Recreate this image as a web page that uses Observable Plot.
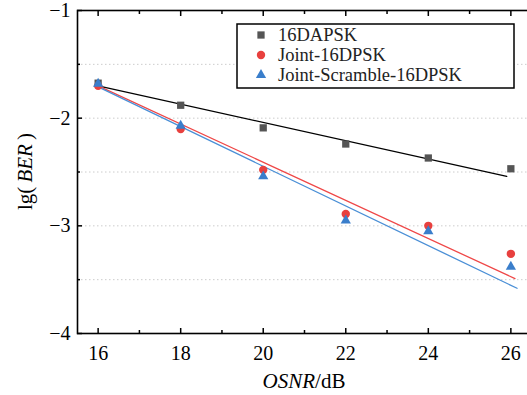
<!DOCTYPE html>
<html><head><meta charset="utf-8">
<script src="https://cdn.jsdelivr.net/npm/d3@7"></script>
<script src="https://cdn.jsdelivr.net/npm/@observablehq/plot@0.6"></script>
<style>
html,body{margin:0;padding:0;background:#fff;overflow:hidden;width:527px;height:395px}
#chart{position:relative;width:527px;height:395px;overflow:hidden}
#chart svg{max-width:none !important;display:block}
</style></head>
<body><div id="chart"></div>
<script>
// ---- data ----
const osnr = [16, 18, 20, 22, 24, 26];
const dapsk = [-1.675, -1.88, -2.09, -2.24, -2.37, -2.47];
const joint = [-1.70, -2.10, -2.48, -2.89, -3.00, -3.26];
const scramble = [-1.68, -2.07, -2.54, -2.95, -3.05, -3.38];
// fitted lines (start / end)
const dapskFitX = [16, 25.9], dapskFitY = [-1.70, -2.54];
const jointFitX = [16, 26.1], jointFitY = [-1.70, -3.49];
const scrambleFitX = [16, 26.15], scrambleFitY = [-1.71, -3.58];
const seriesNames = ["16DAPSK", "Joint-16DPSK", "Joint-Scramble-16DPSK"];
const xMajor = [16, 18, 20, 22, 24, 26];
const xMinor = [17, 19, 21, 23, 25];
const yMajor = [-4, -3, -2, -1];
const yMinor = [-3.5, -2.5, -1.5];
const gridY = [-3.5, -3, -2.5, -2, -1.5];

const colors = {dot0: "#555555", dot1: "#e8403e", dot2: "#3a7ecb", line0: "#000000", line1: "#ef4747", line2: "#4a8fd6"};
const symbols = ["square", "circle", "triangle"];
const font = '"Liberation Serif","Times New Roman",serif';

const pts = [dapsk, joint, scramble].flatMap((ys, s) => osnr.map((x, i) => ({x, y: ys[i], s})));
const fits = [[dapskFitX, dapskFitY], [jointFitX, jointFitY], [scrambleFitX, scrambleFitY]]
  .flatMap(([xs, ys], s) => xs.map((x, i) => ({x, y: ys[i], s})));

const W = 540, H = 395, mL = 77, mR = 9, mT = 10, mB = 62;
const blank = () => "";

const plot = Plot.plot({
  width: W, height: H, marginLeft: mL, marginRight: mR, marginTop: mT, marginBottom: mB,
  x: {domain: [15.5, 26.5]},
  y: {domain: [-4, -1]},
  style: {fontFamily: font, fontSize: "20px", background: "#fff", color: "#000", maxWidth: "none"},
  marks: [
    Plot.ruleY(gridY, {stroke: "#cccccc", strokeDasharray: "1.5,2.5", strokeWidth: 1}),
    Plot.line(fits.filter(d => d.s === 0), {x: "x", y: "y", stroke: colors.line0, strokeWidth: 1.3}),
    Plot.line(fits.filter(d => d.s === 1), {x: "x", y: "y", stroke: colors.line1, strokeWidth: 1.3}),
    Plot.line(fits.filter(d => d.s === 2), {x: "x", y: "y", stroke: colors.line2, strokeWidth: 1.3}),
    Plot.dot(pts.filter(d => d.s === 0), {x: "x", y: "y", symbol: "square", r: 4.1, fill: colors.dot0}),
    Plot.dot(pts.filter(d => d.s === 1), {x: "x", y: "y", symbol: "circle", r: 4.2, fill: colors.dot1}),
    Plot.dot(pts.filter(d => d.s === 2), {x: "x", y: "y", symbol: "triangle", r: 3.8, fill: colors.dot2}),
    Plot.axisX(xMajor, {anchor: "bottom", tickSize: -5, tickPadding: 17, tickFormat: d => String(d), label: null, strokeWidth: 1.5}),
    Plot.axisX(xMinor, {anchor: "bottom", tickSize: -3, tickFormat: blank, label: null, strokeWidth: 1.5}),
    Plot.axisX(xMajor, {anchor: "top", tickSize: -5, tickFormat: blank, label: null, strokeWidth: 1.5}),
    Plot.axisX(xMinor, {anchor: "top", tickSize: -3, tickFormat: blank, label: null, strokeWidth: 1.5}),
    Plot.axisY(yMajor, {anchor: "left", tickSize: -5, tickPadding: 12, tickFormat: d => String(d).replace("-", "\u2212"), label: null, strokeWidth: 1.5}),
    Plot.axisY(yMinor, {anchor: "left", tickSize: -3, tickFormat: blank, label: null, strokeWidth: 1.5}),
    Plot.axisY(yMajor, {anchor: "right", tickSize: -5, tickFormat: blank, label: null, strokeWidth: 1.5}),
    Plot.axisY(yMinor, {anchor: "right", tickSize: -3, tickFormat: blank, label: null, strokeWidth: 1.5}),
    Plot.frame({stroke: "#000", strokeWidth: 1.6})
  ]
});
plot.style.maxWidth = "none";
document.getElementById("chart").appendChild(plot);
const svg = d3.select(plot);

// axis labels with mixed italics
const cx = (mL + W - mR) / 2;
const xl = svg.append("text").attr("x", cx).attr("y", 388).attr("text-anchor", "middle")
  .style("font-family", font).style("font-size", "21px").attr("fill", "#000");
xl.append("tspan").attr("font-style", "italic").text("OSNR");
xl.append("tspan").text("/dB");

const cy = (mT + H - mB) / 2;
const yl = svg.append("text").attr("transform", `translate(32,${cy}) rotate(-90)`).attr("text-anchor", "middle")
  .style("font-family", font).style("font-size", "21px").attr("fill", "#000");
yl.append("tspan").text("lg(\u2009");
yl.append("tspan").attr("font-style", "italic").text("BER");
yl.append("tspan").text("\u2009)");

// legend
const lg = svg.append("g").attr("text-anchor", "start");
lg.append("rect").attr("x", 237).attr("y", 24).attr("width", 277).attr("height", 64)
  .attr("fill", "#fff").attr("stroke", "#000").attr("stroke-width", 1.5);
const symFns = {square: d3.symbolSquare, circle: d3.symbolCircle, triangle: d3.symbolTriangle};
const symR = [4.1, 4.2, 3.8];
const symFill = [colors.dot0, colors.dot1, colors.dot2];
seriesNames.forEach((name, i) => {
  const yy = 35 + i * 20;
  lg.append("path").attr("transform", `translate(261,${yy})`)
    .attr("d", d3.symbol(symFns[symbols[i]], Math.PI * symR[i] * symR[i])()).attr("fill", symFill[i]);
  lg.append("text").attr("x", 278).attr("y", yy + 6).attr("text-anchor", "start")
    .style("font-family", font).style("font-size", "18.5px")
    .attr("fill", "#222").text(name);
});
</script>
</body></html>
